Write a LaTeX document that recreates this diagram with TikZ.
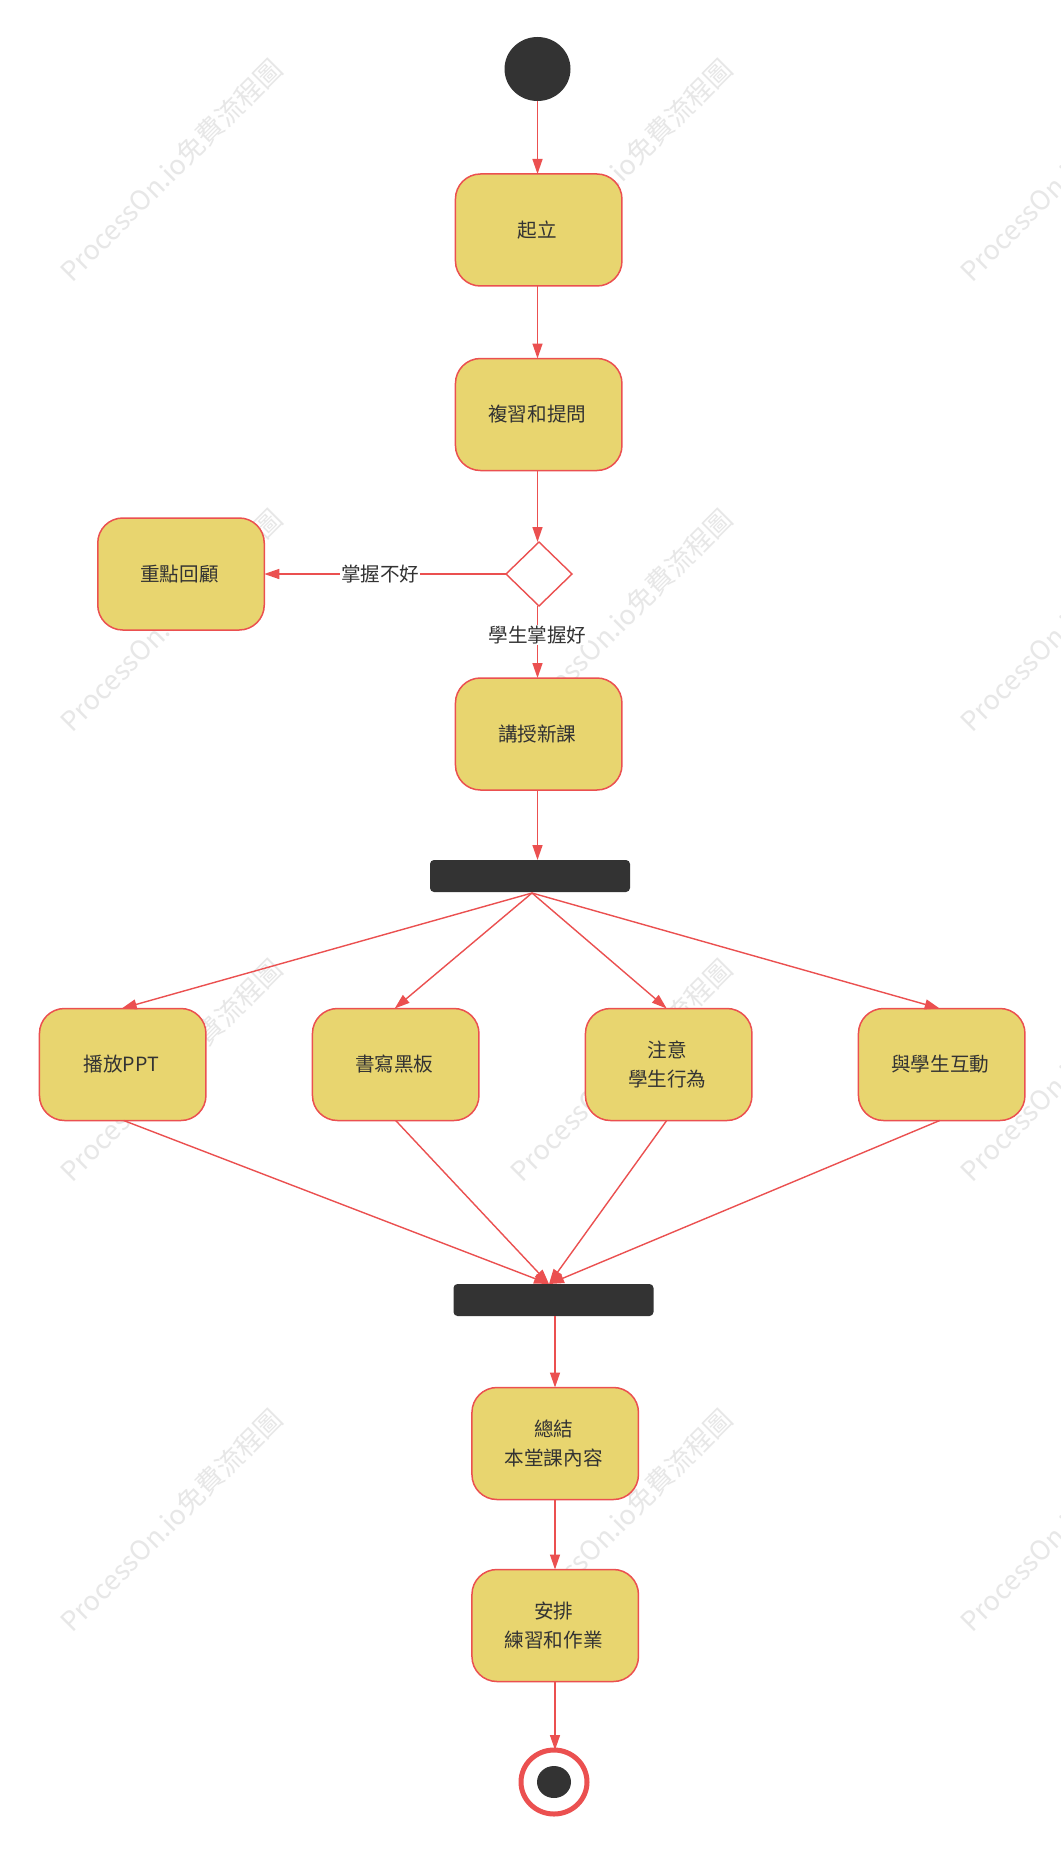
\documentclass[tikz,border=0pt]{standalone}
\usepackage{fontspec}
\setmainfont{Noto Sans CJK TC}
\usetikzlibrary{arrows.meta,shapes.geometric}
\definecolor{edgered}{HTML}{EB5050}
\definecolor{boxfill}{HTML}{E8D56F}
\definecolor{ink}{HTML}{333333}
\definecolor{wm}{HTML}{E7E7E7}
\tikzset{
  x=1pt,y=-1pt,
  every node/.style={font=\fontsize{19.6}{29}\selectfont,text=ink,outer sep=0pt},
  activity/.style={draw=edgered,fill=boxfill,line width=1.5pt,rounded corners=25pt,minimum width=166.5pt,minimum height=112pt,inner sep=0pt,align=center},
  bar/.style={fill=ink,rounded corners=4pt,minimum width=200pt,minimum height=32pt,inner sep=0pt},
  flow/.style={draw=edgered,line width=1.4pt,-{Triangle[length=15pt,width=10pt,fill=edgered]}},
  edgelabel/.style={fill=white,inner sep=1pt},
  watermark/.style={font=\fontsize{27}{32}\selectfont,text=wm,rotate=45,inner sep=0pt},
}
\begin{document}
\begin{tikzpicture}
\clip (0,0) rectangle (1060,1851);
\fill[white] (0,0) rectangle (1060,1851);
% watermarks
\foreach \wy [count=\i] in {170,620,1070,1520}
  \foreach \wx [count=\j] in {171,621,1071}
    \node[watermark] (wm\i\j) at (\wx,\wy) {ProcessOn.io免費流程圖};
% nodes
\node[ellipse,fill=ink,minimum width=66pt,minimum height=64pt,inner sep=0pt] (start) at (537.5,69) {};
\node[activity] (rise) at (538.7,230) {\raisebox{1.5pt}{起立}\kern3pt};
\node[activity] (review) at (538.7,414.5) {\raisebox{1.5pt}{複習和提問}\kern3pt};
\node[diamond,draw=edgered,fill=white,line width=1.4pt,minimum width=66pt,minimum height=64pt,inner sep=0pt] (check) at (539,574) {};
\node[activity] (recap) at (181,574) {\raisebox{1.5pt}{重點回顧}\kern3pt};
\node[activity] (teach) at (538.7,734) {\raisebox{1.5pt}{講授新課}\kern3pt};
\node[bar] (fork) at (530,876) {};
\node[activity] (ppt) at (122.7,1064.5) {\raisebox{1.5pt}{播放PPT}\kern3pt};
\node[activity] (board) at (395.7,1064.5) {\raisebox{1.5pt}{書寫黑板}\kern3pt};
\node[activity] (watch) at (668.7,1064.5) {注意\kern3pt\\學生行為\kern3pt};
\node[activity] (talk) at (941.7,1064.5) {\raisebox{1.5pt}{與學生互動}\kern3pt};
\node[bar] (join) at (553.5,1300) {};
\node[activity] (sum) at (555.2,1443.5) {總結\kern3pt\\本堂課內容\kern3pt};
\node[activity] (plan) at (555.2,1625.5) {安排\kern3pt\\練習和作業\kern3pt};
\node[ellipse,draw=edgered,fill=white,line width=5pt,minimum width=66pt,minimum height=64pt,inner sep=0pt] (finish) at (554,1782) {};
\node[ellipse,fill=ink,minimum width=34pt,minimum height=32pt,inner sep=0pt] (finishdot) at (554,1782) {};
% named connector ends
\coordinate (forkin) at (537.5,860);
\coordinate (forkout) at (532,893);
\coordinate (joinin) at (549,1284);
\coordinate (joinout) at (555,1316);
% connectors
\draw[flow] (start) -- (rise.north -| start);
\draw[flow] (rise.south -| start) -- (review.north -| start);
\draw[flow] (review.south -| start) -- (check.north -| start);
\draw[flow] (check.west) -- node[pos=0.52,edgelabel] (lbad) {掌握不好} (recap.east);
\draw[flow] (check.south -| start) -- node[pos=0.4,edgelabel] (lgood) {學生掌握好} (teach.north -| start);
\draw[flow] (teach.south -| start) -- (forkin);
\draw[flow] (forkout) -- ([xshift=-1pt]ppt.north);
\draw[flow] (forkout) -- ([xshift=-1pt]board.north);
\draw[flow] (forkout) -- ([xshift=-2pt]watch.north);
\draw[flow] (forkout) -- ([xshift=-2pt]talk.north);
\draw[flow] ([xshift=1pt]ppt.south) -- (joinin);
\draw[flow] (board.south) -- (joinin);
\draw[flow] ([xshift=-2pt]watch.south) -- (joinin);
\draw[flow] ([xshift=-2pt]talk.south) -- (joinin);
\draw[flow] (joinout) -- (sum.north -| joinout);
\draw[flow] (sum.south -| joinout) -- (plan.north -| joinout);
\draw[flow] (plan.south -| joinout) -- (finish.north -| joinout);
\end{tikzpicture}
\end{document}
